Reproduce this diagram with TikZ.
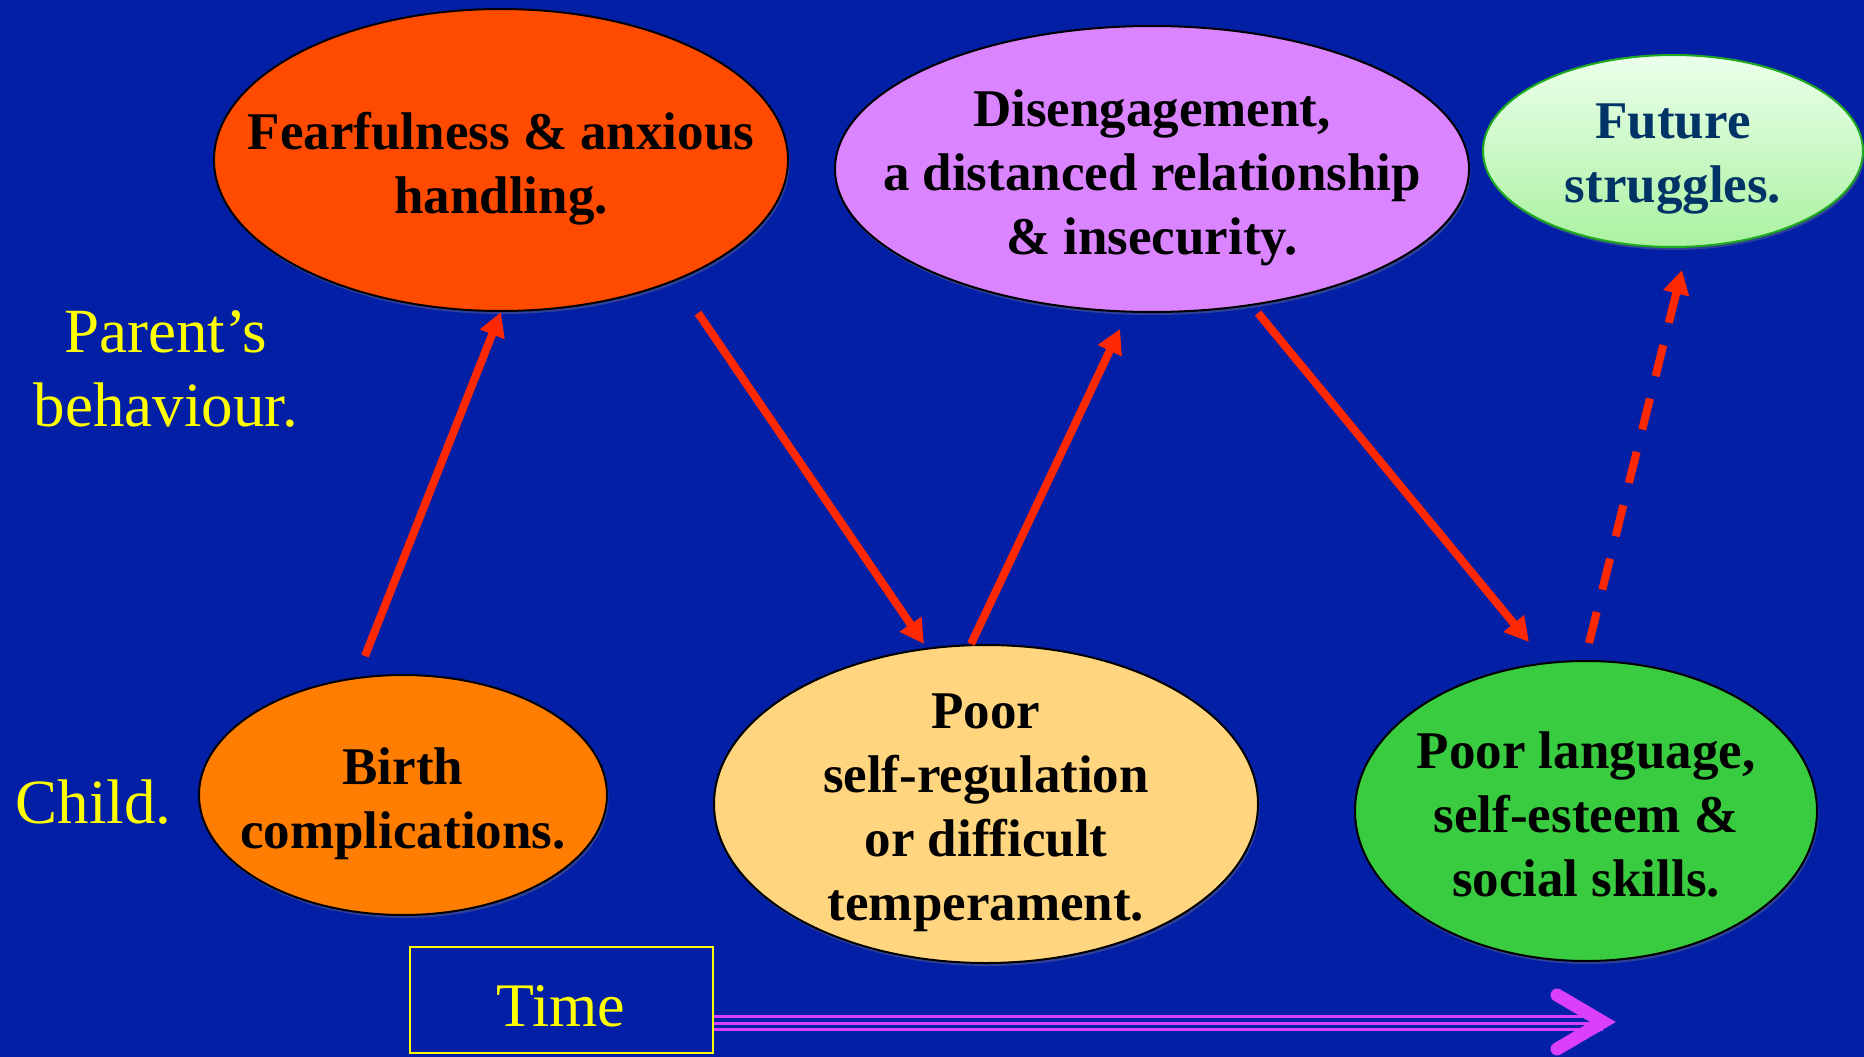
\documentclass[tikz,border=0pt]{standalone}
\usepackage{fontspec}
\setmainfont{Liberation Serif}
\usetikzlibrary{arrows.meta,shadows,shapes.geometric}

\definecolor{bg}{RGB}{3,31,166}
\definecolor{fearfill}{RGB}{255,75,0}
\definecolor{birthfill}{RGB}{255,125,0}
\definecolor{disfill}{RGB}{218,133,255}
\definecolor{regfill}{RGB}{255,213,128}
\definecolor{langfill}{RGB}{58,204,64}
\definecolor{futtop}{RGB}{236,255,236}
\definecolor{futbot}{RGB}{170,242,160}
\definecolor{futline}{RGB}{30,170,30}
\definecolor{futtext}{RGB}{0,51,102}
\definecolor{arrred}{RGB}{255,40,0}
\definecolor{timeline}{RGB}{218,64,250}
\definecolor{labyellow}{RGB}{255,255,0}

\begin{document}
\begin{tikzpicture}[x=1pt,y=-1pt,
  bubble/.style={ellipse, draw=black, line width=2pt, inner sep=0pt,
    drop shadow={opacity=0.35, shadow xshift=1.5pt, shadow yshift=-3pt}},
  btxt/.style={font=\bfseries\fontsize{53}{64}\selectfont, align=center, text=black},
  side/.style={font=\fontsize{63}{74}\selectfont, align=center, text=labyellow},
  arr/.style={draw=arrred, line width=8pt, -{Triangle[length=24pt,width=25pt]}},
  tline/.style={draw=timeline, line width=3pt}
]
% background and page size
\fill[bg] (0,0) rectangle (1864,1057);
\useasboundingbox (0,0) rectangle (1864,1057);

% parent's behaviour row
\node[bubble, fill=fearfill, minimum width=574pt, minimum height=302pt] (fear) at (501,160) {};
\node[btxt] at ([yshift=-9pt]fear.center) {Fearfulness \& anxious\\handling.};

\node[bubble, fill=disfill, minimum width=634pt, minimum height=286pt] (dis) at (1152,169) {};
\node[btxt] at ([yshift=-9pt]dis.center) {Disengagement,\\a distanced relationship\\\& insecurity.};

\node[ellipse, draw=futline, line width=2pt, inner sep=0pt,
      top color=futtop, bottom color=futbot,
      drop shadow={opacity=0.35, shadow xshift=1.5pt, shadow yshift=-3pt},
      minimum width=380pt, minimum height=192pt] (fut) at (1673,151) {};
\node[btxt, text=futtext] at ([yshift=-8pt]fut.center) {Future\\struggles.};

% child row
\node[bubble, fill=birthfill, minimum width=408pt, minimum height=240pt] (birth) at (403,795) {};
\node[btxt] at ([yshift=-9pt]birth.center) {Birth\\complications.};

\node[bubble, fill=regfill, minimum width=544pt, minimum height=318pt] (reg) at (986,804) {};
\node[btxt] at ([yshift=-9pt]reg.center) {Poor\\self-regulation\\or difficult\\temperament.};

\node[bubble, fill=langfill, minimum width=462pt, minimum height=300pt] (lang) at (1586,811) {};
\node[btxt] at ([yshift=-3pt]lang.center) {Poor language,\\self-esteem \&\\social skills.};

% row labels
\node[side] (parent) at (166,369) {Parent’s\\behaviour.};
\node[side, anchor=west] (child) at (12,802) {Child.};

% causal arrows
\draw[arr] ([xshift=-38pt,yshift=18pt]birth.north) -- (fear.south);
\draw[arr] ([xshift=197pt,yshift=-153pt]fear.center) -- ([xshift=-62pt]reg.north);
\draw[arr] ([xshift=-15pt]reg.north) -- ([xshift=-32pt,yshift=-16pt]dis.south);
\draw[arr] ([xshift=106pt,yshift=-144pt]dis.center) -- ([xshift=-57pt,yshift=18pt]lang.north);
\draw[arr, dash pattern=on 32pt off 23pt]
  ([xshift=3pt,yshift=17pt]lang.north) -- ([xshift=9pt,yshift=-22pt]fut.south);

% time axis
\node[draw=labyellow, line width=2pt, minimum width=303pt, minimum height=106pt,
      inner sep=0pt] (time) at (561,1000) {};
\node[font=\fontsize{62}{74}\selectfont, text=labyellow] at ([yshift=-6pt]time.center) {Time};
\coordinate (tip) at (1603,1022);
\draw[tline] ([yshift=-16pt]time.east) -- ([yshift=-16pt]time.east -| tip);
\draw[tline] ([yshift=-23pt]time.east) -- ([yshift=-23pt]time.east -| tip);
\draw[tline] ([yshift=-29pt]time.east) -- ([yshift=-29pt]time.east -| tip);
\draw[draw=timeline, line width=13pt, line cap=round, miter limit=10]
  ([shift={(-46pt,27pt)}]tip) -- (tip) -- ([shift={(-46pt,-27pt)}]tip);
\end{tikzpicture}
\end{document}
